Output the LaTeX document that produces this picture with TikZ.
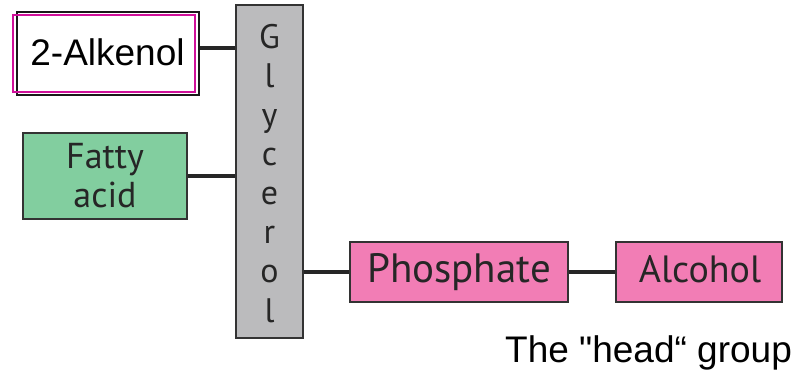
\documentclass[tikz,border=0pt]{standalone}
\usepackage{fontspec}
\setmainfont{Liberation Sans}[Ligatures=TeXOff]
\newfontfamily\boxfont{PT Sans}
\definecolor{glygray}{HTML}{BBBBBD}
\definecolor{fagreen}{HTML}{82CE9F}
\definecolor{phpink}{HTML}{F27DB5}
\definecolor{hlmag}{HTML}{D0109A}
\definecolor{edge}{HTML}{333333}
\begin{document}
\begin{tikzpicture}[x=1pt,y=-1pt,
  box/.style={draw=edge,line width=2pt,rectangle,inner sep=0pt},
  conn/.style={draw=black!85,line width=3.2pt},
  boxtxt/.style={font=\boxfont\fontsize{36}{39}\selectfont,text=black!85,align=center,inner sep=0pt}]
\useasboundingbox (0,0) rectangle (808,373);
% boxes
\node[box,draw=black!90,fill=white,minimum width=182pt,minimum height=83pt] (alkenol) at (108,53.5) {};
\node[draw=hlmag,line width=1.6pt,rectangle,inner sep=0pt,minimum width=182pt,minimum height=77pt] (alkenolhl) at (104,53.5) {};
\node[font=\fontsize{37}{40}\selectfont,inner sep=0pt,anchor=base] (alktext) at (107.5,65) {2-Alkenol};
\node[box,fill=glygray,minimum width=67pt,minimum height=333pt] (glycerol) at (269.5,171.5) {};
\node[boxtxt,font=\boxfont\fontsize{34}{39.1}\selectfont,anchor=base] (glytext) at (269.5,322) {G\\l\\y\\c\\e\\r\\o\\l};
\node[box,fill=fagreen,minimum width=164pt,minimum height=86pt] (fatty) at (105,176) {};
\node[boxtxt,anchor=base] (fattytext) at (105,207) {Fatty\\acid};
\node[box,fill=phpink,minimum width=218pt,minimum height=60pt] (phosphate) at (459,272) {};
\node[boxtxt,font=\boxfont\fontsize{41}{40}\selectfont,anchor=base] (phostext) at (459,282) {Phosphate};
\node[box,fill=phpink,minimum width=166pt,minimum height=60pt] (alcohol) at (699,272) {};
\node[boxtxt,font=\boxfont\fontsize{38}{40}\selectfont,anchor=base] (alctext) at (700,282) {Alcohol};
\node[font=\fontsize{37}{40}\selectfont,inner sep=0pt,anchor=base west] (head) at (505,362) {The "head“ group};
% connectors
\draw[conn] ([yshift=5.5pt]alkenol.east) -- ([yshift=5.5pt]alkenol.east -| glycerol.west);
\draw[conn] (fatty.east) -- (fatty.east -| glycerol.west);
\draw[conn] (glycerol.east |- phosphate.west) -- (phosphate.west);
\draw[conn] (phosphate.east) -- (alcohol.west);
\end{tikzpicture}
\end{document}
